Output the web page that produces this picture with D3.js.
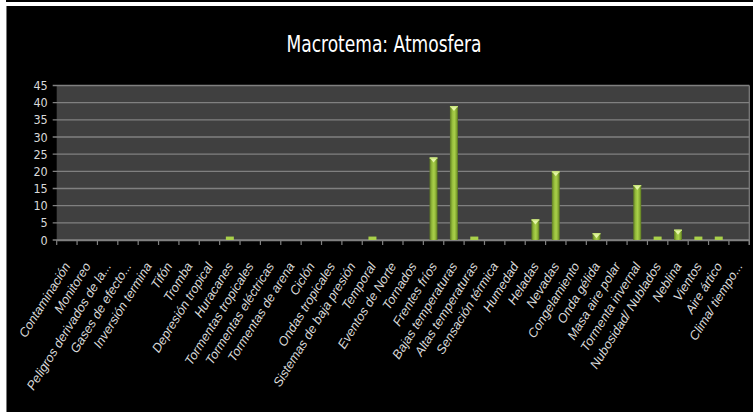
<!DOCTYPE html>
<html>
<head>
<meta charset="utf-8">
<script src="https://cdn.jsdelivr.net/npm/d3@7"></script>
<style>
  html, body { margin: 0; padding: 0; background: #ffffff; }
  svg { display: block; }
</style>
</head>
<body>
<script>
const categories = [
  "Contaminación", "Monitoreo", "Peligros derivados de la...", "Gases de efecto...",
  "Inversión termina", "Tifón", "Tromba", "Depresión tropical", "Huracanes",
  "Tormentas tropicales", "Tormentas eléctricas", "Tormentas de arena", "Ciclón",
  "Ondas tropicales", "Sistemas de baja presión", "Temporal", "Eventos de Norte",
  "Tornados", "Frentes fríos", "Bajas temperaturas", "Altas temperaturas",
  "Sensación térmica", "Humedad", "Heladas", "Nevadas", "Congelamiento",
  "Onda gélida", "Masa aire polar", "Tormenta invernal", "Nubosidad/ Nublados",
  "Neblina", "Vientos", "Aire ártico", "Clima/ tiempo..."
];
const values = [
  0, 0, 0, 0, 0, 0, 0, 0, 1, 0, 0, 0, 0, 0, 0, 1, 0,
  0, 24, 39, 1, 0, 0, 6, 20, 0, 2, 0, 16, 1, 3, 1, 1, 0
];
const yTicks = [0, 5, 10, 15, 20, 25, 30, 35, 40, 45];
const title = "Macrotema: Atmosfera";

(function () {
const W = 753, H = 412;
const svg = d3.select("body").append("svg").attr("width", W).attr("height", H);

// frame
svg.append("rect").attr("x", 0).attr("y", 0).attr("width", W).attr("height", H).attr("fill", "#ffffff");
svg.append("rect").attr("x", 6).attr("y", 0).attr("width", W - 6).attr("height", 2).attr("fill", "#000000");
svg.append("rect").attr("x", 6).attr("y", 6).attr("width", W - 6).attr("height", H - 6).attr("fill", "#000000");
svg.append("line").attr("x1", 6.5).attr("x2", 6.5).attr("y1", 6).attr("y2", H).attr("stroke", "#777").attr("stroke-width", 1);

const pLeft = 56.7, pRight = 749.3, pTop = 85.5, pBottom = 240;

const x = d3.scaleBand().domain(categories).range([pLeft, pRight]).padding(0);
const y = d3.scaleLinear().domain([0, 45]).range([pBottom, pTop]);

// defs
const defs = svg.append("defs");
const g1 = defs.append("linearGradient").attr("id", "barGrad").attr("x1", "0").attr("x2", "1").attr("y1", "0").attr("y2", "0");
g1.append("stop").attr("offset", "0%").attr("stop-color", "#5d7a22");
g1.append("stop").attr("offset", "30%").attr("stop-color", "#96bd3c");
g1.append("stop").attr("offset", "55%").attr("stop-color", "#a9d04a");
g1.append("stop").attr("offset", "80%").attr("stop-color", "#87ab33");
g1.append("stop").attr("offset", "100%").attr("stop-color", "#56721f");

// plot background
svg.append("rect").attr("x", pLeft).attr("y", pTop).attr("width", pRight - pLeft).attr("height", pBottom - pTop).attr("fill", "#404040");

// grid lines
svg.append("g").selectAll("line").data(yTicks).join("line")
  .attr("x1", pLeft - 4).attr("x2", pRight)
  .attr("y1", d => y(d)).attr("y2", d => y(d))
  .attr("stroke", "#808080").attr("stroke-width", 1.3);

// right border
svg.append("line").attr("x1", pRight).attr("x2", pRight).attr("y1", pTop).attr("y2", pBottom + 5)
  .attr("stroke", "#808080").attr("stroke-width", 1.2);

// y axis labels
const yAxis = d3.axisLeft(y).tickValues(yTicks).tickSize(0).tickPadding(9);
const ya = svg.append("g").attr("transform", `translate(${pLeft},0)`).call(yAxis);
ya.select(".domain").remove();
ya.selectAll("text")
  .attr("fill", "#d9d9d9")
  .style("font-family", "'DejaVu Sans Condensed', sans-serif")
  .style("font-size", "12.5px");

// x axis
const xAxis = d3.axisBottom(x).tickSize(0).tickFormat("");
const xa = svg.append("g").attr("transform", `translate(0,${pBottom})`).call(xAxis);
xa.select(".domain").attr("stroke", "#808080").attr("stroke-width", 1.3);
xa.selectAll(".tick").remove();
// boundary tick marks
const bounds = categories.map(c => x(c)).concat([pRight]);
svg.append("g").selectAll("line").data(bounds).join("line")
  .attr("x1", d => d).attr("x2", d => d)
  .attr("y1", pBottom).attr("y2", pBottom + 5)
  .attr("stroke", "#808080").attr("stroke-width", 1.2);

// x labels
svg.append("g").selectAll("text").data(categories).join("text")
  .attr("transform", d => `translate(${x(d) + x.bandwidth() / 2 + 4},266) rotate(-58)`)
  .attr("text-anchor", "end")
  .attr("fill", "#d9d9d9")
  .style("font-family", "'Liberation Sans', Arial, sans-serif")
  .style("font-style", "italic")
  .style("font-size", "12.8px")
  .text(d => d);

// bars
const bw = 8;
const data = categories.map((c, i) => ({ c, v: values[i] }));
const bars = svg.append("g").selectAll("g").data(data.filter(d => d.v > 0)).join("g");
bars.append("rect")
  .attr("x", d => x(d.c) + x.bandwidth() / 2 - bw / 2)
  .attr("y", d => y(d.v))
  .attr("width", bw)
  .attr("height", d => y(0) - y(d.v))
  .attr("fill", d => d.v <= 1 ? "#a9d04a" : "url(#barGrad)");
bars.filter(d => d.v > 1).append("path")
  .attr("d", d => {
    const cx = x(d.c) + x.bandwidth() / 2, t = y(d.v);
    return `M${cx - bw / 2},${t} L${cx + bw / 2},${t} L${cx},${t + 5} Z`;
  })
  .attr("fill", "#e4f5a6");
bars.filter(d => d.v > 1).append("rect")
  .attr("x", d => x(d.c) + x.bandwidth() / 2 - bw / 2)
  .attr("y", d => y(d.v))
  .attr("width", bw).attr("height", 1.2)
  .attr("fill", "#c8e57a");

// title
svg.append("text")
  .attr("x", 384).attr("y", 52)
  .attr("text-anchor", "middle")
  .attr("fill", "#ffffff")
  .attr("textLength", 195)
  .attr("lengthAdjust", "spacingAndGlyphs")
  .style("font-family", "'DejaVu Sans Condensed', sans-serif")
  .style("font-size", "23px")
  .text(title);
})();
</script>
</body>
</html>
